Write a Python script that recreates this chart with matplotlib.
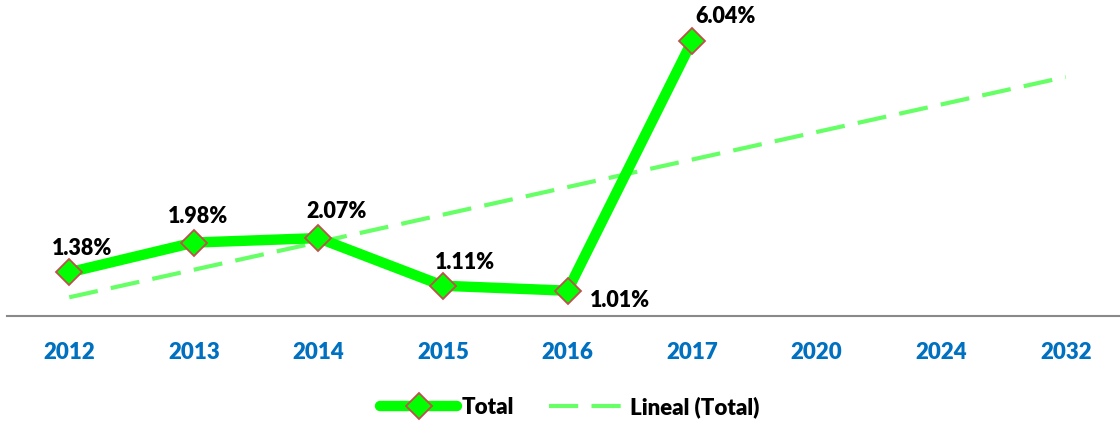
import numpy as np
import matplotlib
matplotlib.use("Agg")
import matplotlib.pyplot as plt

# data
categories = ["2012", "2013", "2014", "2015", "2016", "2017", "2020", "2024", "2032"]
total = [1.38, 1.98, 2.07, 1.11, 1.01, 6.04]
labels = ["1.38%", "1.98%", "2.07%", "1.11%", "1.01%", "6.04%"]

# label offsets in points (dx, dy)
label_offsets = [(9, 17), (3, 19), (13, 19), (16, 17), (38, -7), (24, 18)]

plt.rcParams["font.family"] = ["Lato", "DejaVu Sans"]

fig = plt.figure(figsize=(11.2, 4.28), dpi=100)
ax = fig.add_axes([7 / 1120, 1 - 316 / 428, 1121 / 1120, (316 + 6.5) / 428])

xs = np.arange(len(total))
line, = ax.plot(xs, total, color="#00FF00", lw=7.5, solid_capstyle="round",
                solid_joinstyle="round", marker="D", ms=13,
                markerfacecolor="#00FF00", markeredgecolor="#C0504D",
                markeredgewidth=1.3, zorder=3, label="Total")

# linear trendline across all categories (like Excel's "Lineal")
k, b = np.polyfit(xs + 1, total, 1)
xt = np.arange(len(categories))
trend, = ax.plot(xt, k * (xt + 1) + b, color="#66FF66", lw=3,
                 dashes=(7, 3.2), zorder=2, label="Lineal (Total)")

for x, y, t, (dx, dy) in zip(xs, total, labels, label_offsets):
    ax.annotate(t, (x, y), xytext=(dx, dy), textcoords="offset points",
                ha="center", va="center", fontsize=15.5, fontweight="heavy",
                color="black")

ax.set_xlim(-0.5, len(categories) - 0.5)
ax.set_ylim(0.5, 7.0)
ax.set_xticks(xt)
ax.set_xticklabels(categories, fontsize=16, fontweight="heavy", color="#0070C0")
ax.tick_params(axis="x", length=0, pad=18.5)
ax.set_yticks([])
for s in ["top", "right", "left"]:
    ax.spines[s].set_visible(False)
ax.spines["bottom"].set_color("#898989")
ax.spines["bottom"].set_linewidth(1.5)

fig.legend(handles=[line, trend], loc="center",
           bbox_to_anchor=(570 / 1120, 1 - 407 / 428), ncol=2, frameon=False,
           numpoints=1, handlelength=3.45, columnspacing=1.6, handletextpad=0.2,
           prop={"size": 16, "weight": "heavy"})

fig.savefig("out.png", dpi=100)
